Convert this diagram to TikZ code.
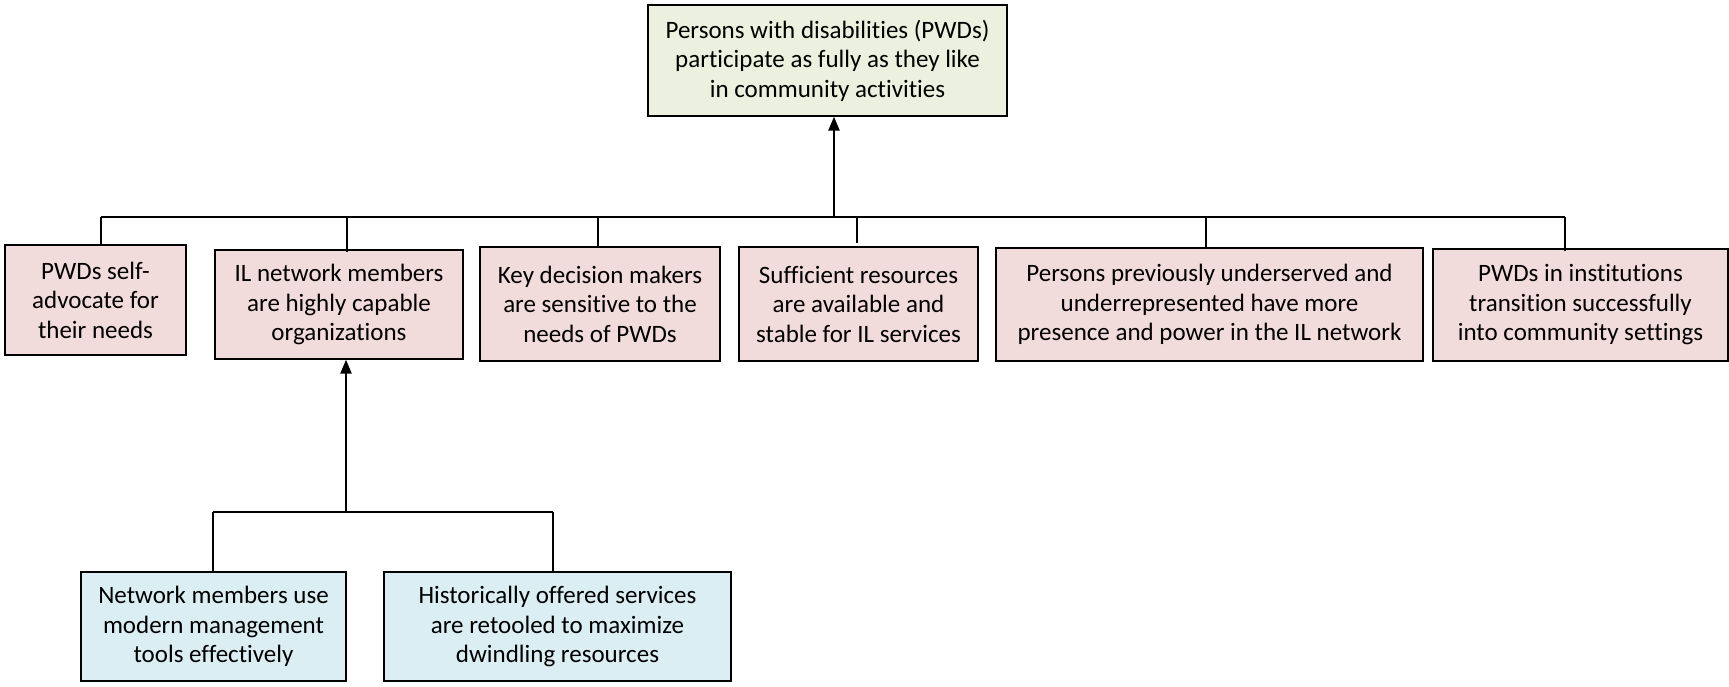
\documentclass[tikz,border=0pt]{standalone}
\usepackage{fontspec}
\setmainfont[Ligatures=NoCommon]{Carlito}
\usetikzlibrary{arrows.meta}
\definecolor{goalgreen}{HTML}{EBF1DE}
\definecolor{midpink}{HTML}{F2DCDB}
\definecolor{lowblue}{HTML}{DBEEF3}
\tikzset{
  box/.style={draw=black, line width=1.3pt, rectangle, align=center, inner sep=0pt,
    font=\fontsize{25}{29.5}\selectfont},
  conn/.style={line width=1.3pt},
  arr/.style={line width=2.4pt, -{Triangle[length=14pt,width=11pt]}},
}
\newcommand{\boxat}[7]{% name, x1, y1, x2, y2, fill, text
  \node[box, fill=#6, minimum width=#4-#2, minimum height=#5-#3] (#1) at ({(#2+#4)/2},{(#3+#5)/2}) {#7};}
\begin{document}
\begin{tikzpicture}[x=1pt,y=-1pt]
\useasboundingbox (0,0) rectangle (1729,686);
\boxat{top}{648}{5}{1007}{116}{goalgreen}{Persons with disabilities (PWDs)\\participate as fully as they like\\in community activities}
\boxat{b1}{5}{245}{186}{355}{midpink}{PWDs self-\\advocate for\\their needs}
\boxat{b2}{215}{250}{463}{359}{midpink}{IL network members\\are highly capable\\organizations}
\boxat{b3}{480}{247}{720}{361}{midpink}{Key decision makers\\are sensitive to the\\needs of PWDs}
\boxat{b4}{739}{247}{978}{361}{midpink}{Sufficient resources\\are available and\\stable for IL services}
\boxat{b5}{996}{248}{1423}{361}{midpink}{Persons previously underserved and\\underrepresented have more\\presence and power in the IL network}
\boxat{b6}{1433}{249}{1728}{361}{midpink}{PWDs in institutions\\transition successfully\\into community settings}
\boxat{c1}{81}{572}{346}{681}{lowblue}{Network members use\\modern management\\tools effectively}
\boxat{c2}{384}{572}{731}{681}{lowblue}{Historically offered services\\are retooled to maximize\\dwindling resources}
% upper bus
\coordinate (j1) at (101,217);
\coordinate (j2) at (347,217);
\coordinate (j3) at (598,217);
\coordinate (j4) at (857,217);
\coordinate (j5) at (1206,217);
\coordinate (j6) at (1565,217);
\coordinate (jt) at (834,217);
\draw[conn] (j1) -- (j6);
\draw[conn] (j1) -- ([yshift=-2pt]j1 |- b1.north);
\draw[conn] (j2) -- ([yshift=-3pt]j2 |- b2.north);
\draw[conn] (j3) -- ([yshift=-1pt]j3 |- b3.north);
\draw[conn] (j4) -- ([yshift=3pt]j4 |- b4.north);
\draw[conn] (j5) -- ([yshift=-2pt]j5 |- b5.north);
\draw[conn] (j6) -- ([yshift=-3pt]j6 |- b6.north);
\draw[arr] (jt) -- (jt |- top.south);
% lower bus
\coordinate (k1) at (213,512);
\coordinate (k2) at (553,512);
\coordinate (kt) at (346,512);
\draw[conn] (k1) -- (k2);
\draw[conn] (k1) -- (k1 |- c1.north);
\draw[conn] (k2) -- (k2 |- c2.north);
\draw[arr] (kt) -- (kt |- b2.south);
\end{tikzpicture}
\end{document}
